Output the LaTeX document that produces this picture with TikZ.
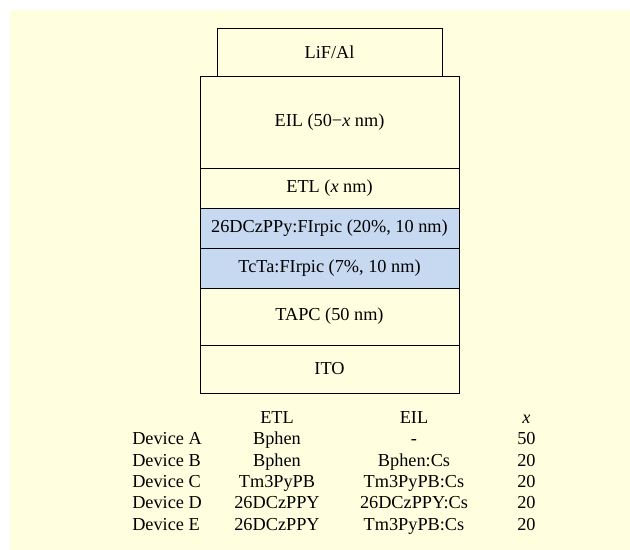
\documentclass[tikz,border=0pt]{standalone}
\usepackage{fontspec}
\setmainfont{Liberation Serif}
\usepackage{xcolor}
\usepackage{tikz}
\usetikzlibrary{positioning,backgrounds}

\definecolor{cream}{HTML}{FFFFE0}
\definecolor{emlblue}{HTML}{C6D9F0}

\begin{document}
\begin{tikzpicture}[
    every node/.style={font=\fontsize{13}{15.6}\selectfont},
    layer/.style={draw, line width=0.6pt, minimum width=6.475cm, fill=#1,
                  inner sep=0pt, outer sep=0pt, align=center},
    layer/.default=cream,
    cell/.style={anchor=base, inner sep=0pt},
  ]
    \useasboundingbox (0,0) rectangle (15.75,-13.75);
    \fill[cream] (0.25,-0.25) rectangle (15.75,-13.75);

    % --- Device stack (bottom to top) ---
    \node[layer, minimum height=1.2cm]                    (ito)  at (8.2375,-9.225) {ITO};
    \node[layer, minimum height=1.425cm, above=0pt of ito] (tapc) {TAPC (50 nm)};
    \node[layer=emlblue, minimum height=1cm, above=0pt of tapc] (tcta) {TcTa:FIrpic (7\%, 10 nm)};
    \node[layer=emlblue, minimum height=1cm, above=0pt of tcta] (dczppy) {26DCzPPy:FIrpic (20\%, 10 nm)};
    \node[layer, minimum height=1cm, above=0pt of dczppy] (etl)  {ETL (\textit{x} nm)};
    \node[layer, minimum height=2.3cm, above=0pt of etl]  (eil)  {EIL (50−\textit{x} nm)};
    \node[layer, minimum height=1.2cm, minimum width=5.625cm, above=0pt of eil] (lifal) {LiF/Al};

    % --- Table header ---
    \node[cell] (etlh) at (6.925,-10.6)  {ETL};
    \node[cell] (eilh) at (10.35,-10.6)  {EIL};
    \node[cell] (xh)   at (13.16,-10.6)  {\textit{x}};

    % --- Device rows ---
    \node[cell, anchor=base west] (devA) at (3.3,-11.125) {Device A};
    \node[cell, anchor=base west] (devB) at (3.3,-11.675) {Device B};
    \node[cell, anchor=base west] (devC) at (3.3,-12.2)   {Device C};
    \node[cell, anchor=base west] (devD) at (3.3,-12.725) {Device D};
    \node[cell, anchor=base west] (devE) at (3.3,-13.275) {Device E};

    \node[cell] (etlA) at (devA.base -| etlh.base) {Bphen};
    \node[cell] (eilA) at (devA.base -| eilh.base) {-};
    \node[cell] (xA)   at (devA.base -| xh.base)   {50};

    \node[cell] (etlB) at (devB.base -| etlh.base) {Bphen};
    \node[cell] (eilB) at (devB.base -| eilh.base) {Bphen:Cs};
    \node[cell] (xB)   at (devB.base -| xh.base)   {20};

    \node[cell] (etlC) at (devC.base -| etlh.base) {Tm3PyPB};
    \node[cell] (eilC) at (devC.base -| eilh.base) {Tm3PyPB:Cs};
    \node[cell] (xC)   at (devC.base -| xh.base)   {20};

    \node[cell] (etlD) at (devD.base -| etlh.base) {26DCzPPY};
    \node[cell] (eilD) at (devD.base -| eilh.base) {26DCzPPY:Cs};
    \node[cell] (xD)   at (devD.base -| xh.base)   {20};

    \node[cell] (etlE) at (devE.base -| etlh.base) {26DCzPPY};
    \node[cell] (eilE) at (devE.base -| eilh.base) {Tm3PyPB:Cs};
    \node[cell] (xE)   at (devE.base -| xh.base)   {20};
\end{tikzpicture}
\end{document}
